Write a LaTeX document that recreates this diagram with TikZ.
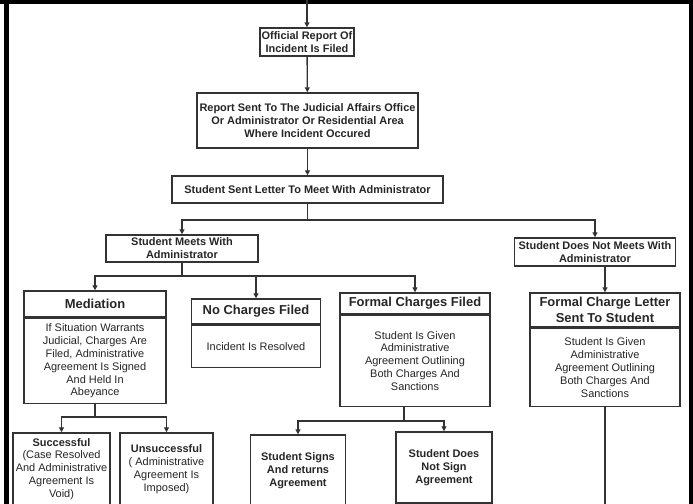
\documentclass[tikz,border=0pt]{standalone}
\usepackage{fontspec}
\setmainfont{Liberation Sans}
\usetikzlibrary{positioning,arrows.meta}
\newcommand\lblfont{\fontsize{11}{12.9}\selectfont\bfseries}
\newcommand\ttlfont{\fontsize{13}{16}\selectfont\bfseries}
\newcommand\txtfont{\fontsize{11}{12.9}\selectfont}
\tikzset{
  lbl/.style={draw=black!80, line width=1.4bp, fill=white, align=center, inner sep=1bp, text=black!85, font=\lblfont},
  ttl/.style={lbl, font=\ttlfont},
  txt/.style={lbl, font=\txtfont},
  arr/.style={draw=black!80, line width=1.3bp, -{Triangle[length=5bp,width=5bp]}},
  ln/.style={draw=black!80, line width=1.3bp}
}
\begin{document}
\begin{tikzpicture}[x=1bp,y=-1bp]
  \useasboundingbox (0,0) rectangle (693,504);
  % \draw[help lines, step=50] (0,0) grid (693,504);
  \fill[black] (0,0) rectangle (693,4);
  \fill[black] (4,0) rectangle (9,504);
  \fill[black] (689,0) rectangle (693,504);

  \coordinate (top) at (307,0);
  \node[lbl, minimum width=94bp, minimum height=28bp] (filed) at (307,42) {Official Report Of\\Incident Is Filed};
  \node[lbl, minimum width=221bp, minimum height=55bp] (office) at (307.5,120.5) {Report Sent To The Judicial Affairs Office\\Or Administrator Or Residential Area\\Where Incident Occured};
  \node[lbl, minimum width=271bp, minimum height=27bp] (letter) at (307.5,189.5) {Student Sent Letter To Meet With Administrator};
  \node[lbl, minimum width=152bp, minimum height=27bp] (meets) at (182,248.5) {Student Meets With\\Administrator};
  \node[lbl, minimum width=161bp, minimum height=28bp] (nomeet) at (595,252) {Student Does Not Meets With\\Administrator};

  % second row: title + body
  \node[ttl, minimum width=142bp, minimum height=26bp] (medT) at (95,304) {Mediation};
  \node[txt, minimum width=142bp, minimum height=85bp, below=0pt of medT] (medB) {If Situation Warrants\\Judicial, Charges Are\\Filed, Administrative\\Agreement Is Signed\\And Held In\\Abeyance};
  \node[ttl, minimum width=129bp, minimum height=25bp] (nocT) at (256,311.5) {No Charges Filed};
  \node[txt, minimum width=129bp, minimum height=42bp, below=0pt of nocT] (nocB) {Incident Is Resolved};
  \node[ttl, minimum width=150bp, minimum height=21bp] (fcT) at (415,303.5) {Formal Charges Filed};
  \node[txt, minimum width=150bp, minimum height=91bp, below=0pt of fcT] (fcB) {Student Is Given\\Administrative\\Agreement Outlining\\Both Charges And\\Sanctions};
  \node[ttl, minimum width=150bp, minimum height=34bp] (fclT) at (605,310) {Formal Charge Letter\\Sent To Student};
  \node[txt, minimum width=150bp, minimum height=78bp, below=0pt of fclT] (fclB) {Student Is Given\\Administrative\\Agreement Outlining\\Both Charges And\\Sanctions};

  % third row
  \node[txt, minimum width=97bp, minimum height=72bp] (succ) at (61.5,469) {{\bfseries Successful}\\(Case Resolved\\And Administrative\\Agreement Is\\Void)};
  \node[txt, minimum width=93bp, minimum height=72bp] (unsucc) at (166.5,469) {{\bfseries Unsuccessful}\\( Administrative\\Agreement Is\\Imposed)};
  \node[lbl, minimum width=95bp, minimum height=72bp] (signs) at (298,471) {Student Signs\\And returns\\Agreement};
  \node[lbl, minimum width=96bp, minimum height=71bp] (nosign) at (444,467.5) {Student Does\\Not Sign\\Agreement};

  % connectors
  \draw[arr] (top) -- (filed);
  \draw[arr] (filed) -- (office);
  \draw[arr] (office) -- (letter);
  \draw[ln] (letter) -- ++(0,30.5) coordinate (j1);
  \draw[arr] (j1) -| (meets);
  \draw[arr] (j1) -| (nomeet);
  \draw[ln] (meets) -- ++(0,27.5) coordinate (j2);
  \draw[arr] (j2) -| (medT);
  \draw[arr] (j2) -| (nocT);
  \draw[arr] (j2) -| (fcT);
  \draw[arr] (fclT.north |- nomeet.south) -- (fclT);
  \draw[ln] (medB.south) -- ++(0,13) coordinate (j3);
  \draw[arr] (j3) -| (succ);
  \draw[arr] (j3) -| (unsucc);
  \draw[ln] ([xshift=-11bp]fcB.south) -- ++(0,14) coordinate (j4);
  \draw[arr] (j4) -| (signs);
  \draw[arr] (j4) -| (nosign);
  \coordinate (bot) at (fclB.south |- 0,504);
  \draw[ln] (fclB.south) -- (bot);
\end{tikzpicture}
\end{document}
